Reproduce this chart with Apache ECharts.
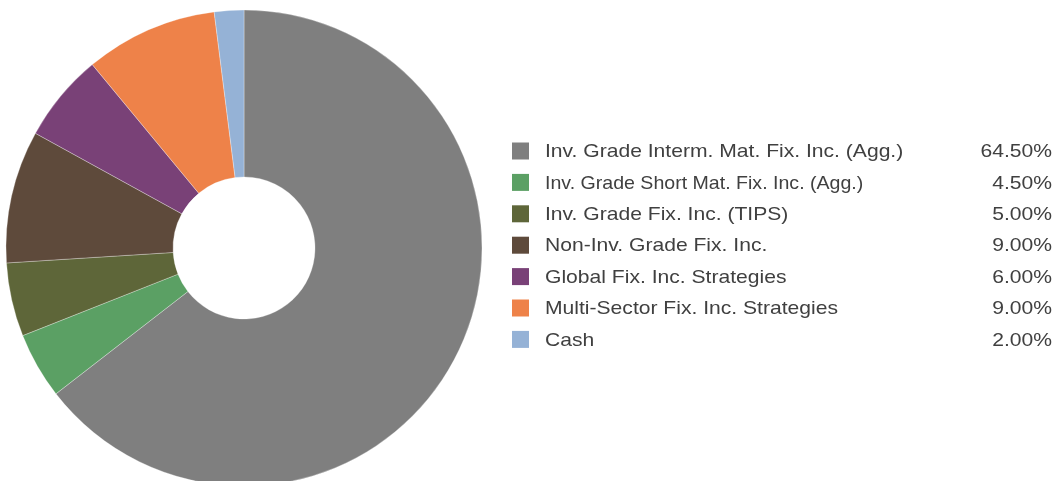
<!DOCTYPE html>
<html>
<head>
<meta charset="utf-8">
<style>
  html, body { margin: 0; padding: 0; background: #ffffff; }
  #chart { width: 1054px; height: 481px; }
</style>
<script src="https://cdn.jsdelivr.net/npm/echarts@6/dist/echarts.min.js"></script>
</head>
<body>
<div id="chart"></div>
<script>
// Asset allocation categories and weights (percent)
const categories = [
  'Inv. Grade Interm. Mat. Fix. Inc. (Agg.)',
  'Inv. Grade Short Mat. Fix. Inc. (Agg.)',
  'Inv. Grade Fix. Inc. (TIPS)',
  'Non-Inv. Grade Fix. Inc.',
  'Global Fix. Inc. Strategies',
  'Multi-Sector Fix. Inc. Strategies',
  'Cash'
];
const weights = [64.5, 4.5, 5.0, 9.0, 6.0, 9.0, 2.0];

// Styling
const colors = ['#7f7f7f', '#5ba064', '#5e6639', '#5e4a3b', '#794177', '#ee8249', '#95b2d6'];
const nameStretch = [1.11, 1.03, 1.11, 1.11, 1.11, 1.11, 1.11];
const FONT = '19px "Liberation Sans", Arial, sans-serif';
const TEXT_COLOR = '#404040';

const pieData = categories.map((name, i) => ({
  name: name,
  value: weights[i],
  itemStyle: { color: colors[i] }
}));

// Legend table on the right: swatch, name, right-aligned weight
const legendTop = 151;
const rowStep = 31.4;
const legendItems = [];
categories.forEach((name, i) => {
  const cy = legendTop + i * rowStep;
  legendItems.push({
    type: 'rect',
    shape: { x: 512, y: cy - 8.5, width: 17, height: 17 },
    style: { fill: colors[i] },
    silent: true
  });
  legendItems.push({
    type: 'text',
    x: 545, y: cy + 1,
    scaleX: nameStretch[i],
    style: { text: name, x: 0, y: 0, font: FONT, fill: TEXT_COLOR, textAlign: 'left', textVerticalAlign: 'middle' },
    silent: true
  });
  legendItems.push({
    type: 'text',
    x: 1052, y: cy + 1,
    scaleX: 1.11,
    style: { text: weights[i].toFixed(2) + '%', x: 0, y: 0, font: FONT, fill: TEXT_COLOR, textAlign: 'right', textVerticalAlign: 'middle' },
    silent: true
  });
});

const chart = echarts.init(document.getElementById('chart'), null, { renderer: 'canvas' });

chart.setOption({
  animation: false,
  graphic: legendItems,
  series: [{
    type: 'pie',
    center: [244, 248],
    radius: [71, 238],
    startAngle: 90,
    clockwise: true,
    label: { show: false },
    labelLine: { show: false },
    emphasis: { disabled: true },
    itemStyle: { borderColor: 'rgba(255,255,255,0.6)', borderWidth: 0.5 },
    data: pieData
  }]
});
</script>
</body>
</html>
